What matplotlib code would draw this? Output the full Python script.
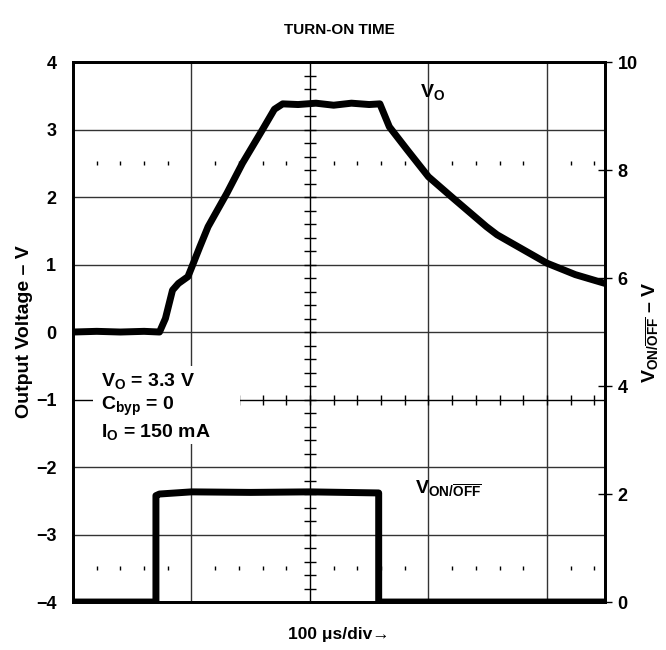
import numpy as np
import matplotlib
matplotlib.use('Agg')
import matplotlib.pyplot as plt
from matplotlib.patches import Rectangle

plt.rcParams['font.family'] = ['Liberation Sans', 'DejaVu Sans']
plt.rcParams['font.weight'] = 'bold'
plt.rcParams['mathtext.fontset'] = 'custom'
plt.rcParams['mathtext.rm'] = 'Liberation Sans:bold'
plt.rcParams['mathtext.it'] = 'Liberation Sans:bold'
plt.rcParams['mathtext.bf'] = 'Liberation Sans:bold'

# output voltage trace (time in us, volts on left axis)
t_out = [0, 20, 40, 60, 73, 78, 84, 89, 97, 100, 107, 114, 130, 143, 160, 170, 177,
         190, 205, 220, 235, 250, 259, 267, 282, 300, 321, 349, 358, 380, 400, 424, 449]
v_out = [0.0, 0.01, 0.0, 0.01, 0.0, 0.2, 0.62, 0.72, 0.82, 0.95, 1.26, 1.56, 2.06, 2.5, 3.0, 3.3, 3.38,
         3.37, 3.39, 3.36, 3.39, 3.37, 3.38, 3.04, 2.70, 2.30, 1.98, 1.56, 1.44, 1.22, 1.02, 0.85, 0.72]

# enable pin trace (right axis)
t_en = [0, 70, 70, 73, 100, 150, 200, 258, 258, 449]
v_en = [0, 0, 1.97, 2.0, 2.04, 2.03, 2.04, 2.02, 0, 0]

left_ticks = [-4, -3, -2, -1, 0, 1, 2, 3, 4]
right_ticks = [0, 2, 4, 6, 8, 10]
notes = [r'$\mathrm{V_O}$ = 3.3 V', r'$\mathrm{C_{byp}}$ = 0', r'$\mathrm{I_O}$ = 150 mA']

fig = plt.figure(figsize=(6.66, 6.5), dpi=100)
ax = fig.add_axes([0.1096, 0.0738, 0.7988, 0.8308])
ax.set_xlim(0, 449)
ax.set_ylim(-4, 4)

grid_c = '#333333'
for y in [3, 2, 1, 0, -2, -3]:
    ax.axhline(y, color=grid_c, lw=1.0, zorder=1)
for x in [100, 300, 400]:
    ax.axvline(x, color=grid_c, lw=1.0, zorder=1)
# centre axes with minor ticks
ax.axvline(200, color='black', lw=1.0, zorder=1)
ax.axhline(-1, color='black', lw=1.0, zorder=1)
ymin_t = np.arange(-4, 4.01, 0.2)
ax.plot(np.full(len(ymin_t), 200), ymin_t, ls='none', marker='_', ms=8, mew=1, color='black', zorder=1)
xmin_t = np.arange(20, 449, 20)
ax.plot(xmin_t, np.full(len(xmin_t), -1), ls='none', marker='|', ms=7, mew=1, color='black', zorder=1)
# dotted rows
dots = [x for x in xmin_t if x % 100 != 0]
for y in [2.5, -3.5]:
    ax.plot(dots, np.full(len(dots), y), ls='none', marker='|', ms=2.5, mew=1, color='black', zorder=1)

ax.plot(t_out, v_out, color='black', lw=5, solid_capstyle='round', solid_joinstyle='round', zorder=3)

ax.set_yticks(left_ticks)
ax.set_yticklabels(['\u22124', '\u22123', '\u22122', '\u22121', '0', '1', '2', '3', '4'])
ax.tick_params(axis='y', length=0, pad=12, labelsize=13)
ax.set_xticks([])
for s in ax.spines.values():
    s.set_linewidth(2)
ax.set_ylabel('Output Voltage \u2013 V', fontsize=14, fontweight='bold', labelpad=2)
ax.set_xlabel('100 \u03bcs/div\u2192', fontsize=12.5, fontweight='bold', labelpad=18)
ax.set_title('TURN-ON TIME', fontsize=11, fontweight='bold', pad=20)

ax2 = ax.twinx()
ax2.set_ylim(0, 10)
ax2.plot(t_en, v_en, color='black', lw=5, solid_capstyle='round', solid_joinstyle='round', zorder=3)
ax2.set_yticks(right_ticks)
ax2.tick_params(axis='y', direction='inout', length=10, width=1, pad=4, labelsize=13)
for s in ax2.spines.values():
    s.set_linewidth(2)
ax2.set_ylabel(r'$\mathrm{V_{ON/\overline{OFF}}}$' + ' \u2013 V',
               fontsize=14, fontweight='bold', labelpad=2)

ax.text(293, 3.55, r'$\mathrm{V_O}$', fontsize=14, fontweight='bold', zorder=4, va='center')
ax2.text(289, 2.1, r'$\mathrm{V_{ON/\overline{OFF}}}$', fontsize=14, fontweight='bold', zorder=4, va='center')

ax.add_patch(Rectangle((17, -1.66), 124, 1.16, facecolor='white', edgecolor='none', zorder=2))
for txt, yv in zip(notes, [-0.72, -1.1, -1.48]):
    ax.text(24, yv, txt, fontsize=14, fontweight='bold', va='center', ha='left', zorder=4)

fig.savefig('out.png', dpi=100)
